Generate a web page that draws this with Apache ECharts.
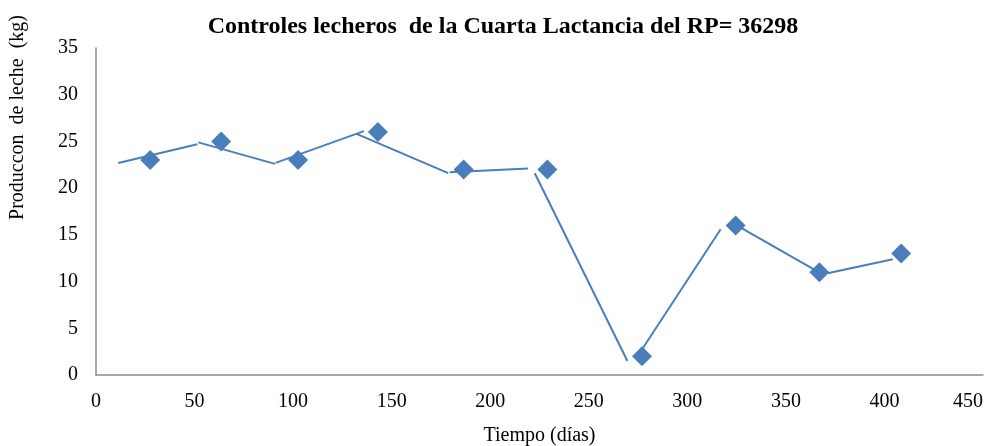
<!DOCTYPE html>
<html><head><meta charset="utf-8">
<script src="https://cdn.jsdelivr.net/npm/echarts@6/dist/echarts.min.js"></script>
<style>html,body{margin:0;padding:0;background:#fff}#c{width:997px;height:446px}</style>
</head><body><div id="c"></div>
<script>
// Marker data: days and milk production (kg)
var dias = [27.5, 63.5, 102.5, 143, 186.5, 229, 277, 324.5, 367, 408.5];
var produccion = [23, 25, 23, 26, 22, 22, 2, 16, 11, 13];
// Line segments (as drawn in the reference)
var segX0 = [11.3, 51.9, 91.1, 132.2, 179.5, 222.6, 276.9, 324.4, 371.2];
var segY0 = [22.7, 24.9, 22.7, 25.8, 21.7, 21.6, 2.7, 16.1, 10.9];
var segX1 = [51.4, 90.8, 135.9, 178.7, 219.2, 269.6, 316.9, 367.1, 404.2];
var segY1 = [24.7, 22.6, 26.1, 21.6, 22.1, 1.5, 15.6, 10.95, 12.4];

var pts = dias.map(function(d,i){return [d, produccion[i]];});
var segs = segX0.map(function(x,i){return {coords:[[x,segY0[i]],[segX1[i],segY1[i]]]};});
var font = 'Liberation Serif';
var chart = echarts.init(document.getElementById('c'));
chart.setOption({
  animation:false,
  title:{text:'Controles lecheros  de la Cuarta Lactancia del RP= 36298',left:498,textAlign:'center',top:10,
    textStyle:{fontFamily:font,fontSize:24,fontWeight:'bold',color:'#000'}},
  grid:{left:96,right:14,top:48,bottom:71,outerBoundsMode:'none',containLabel:false},
  xAxis:{type:'value',min:0,max:450,interval:50,
    name:'Tiempo (días)',nameLocation:'middle',nameGap:51,
    nameTextStyle:{fontFamily:font,fontSize:20,color:'#000'},
    axisLine:{lineStyle:{color:'#8c8c8c',width:1.5}},axisTick:{show:false},splitLine:{show:false},
    axisLabel:{fontFamily:font,fontSize:20,color:'#000',margin:17,alignMaxLabel:'right'}},
  yAxis:{type:'value',min:0,max:35,interval:5,
    name:'Produccon  de leche  (kg)',nameLocation:'middle',nameGap:68,
    nameTextStyle:{fontFamily:font,fontSize:20,color:'#000',padding:[0,0,0,188]},
    axisLine:{show:true,lineStyle:{color:'#8c8c8c',width:1.5}},axisTick:{show:false},splitLine:{show:false},
    axisLabel:{fontFamily:font,fontSize:20,color:'#000',margin:18}},
  series:[
    {type:'lines',coordinateSystem:'cartesian2d',data:segs,
      lineStyle:{color:'#4a7ebb',width:2,opacity:1},z:2},
    {type:'scatter',data:pts,symbol:'diamond',symbolSize:20,
      itemStyle:{color:'#4a7ebb',opacity:1},z:3}
  ]
});
</script></body></html>
